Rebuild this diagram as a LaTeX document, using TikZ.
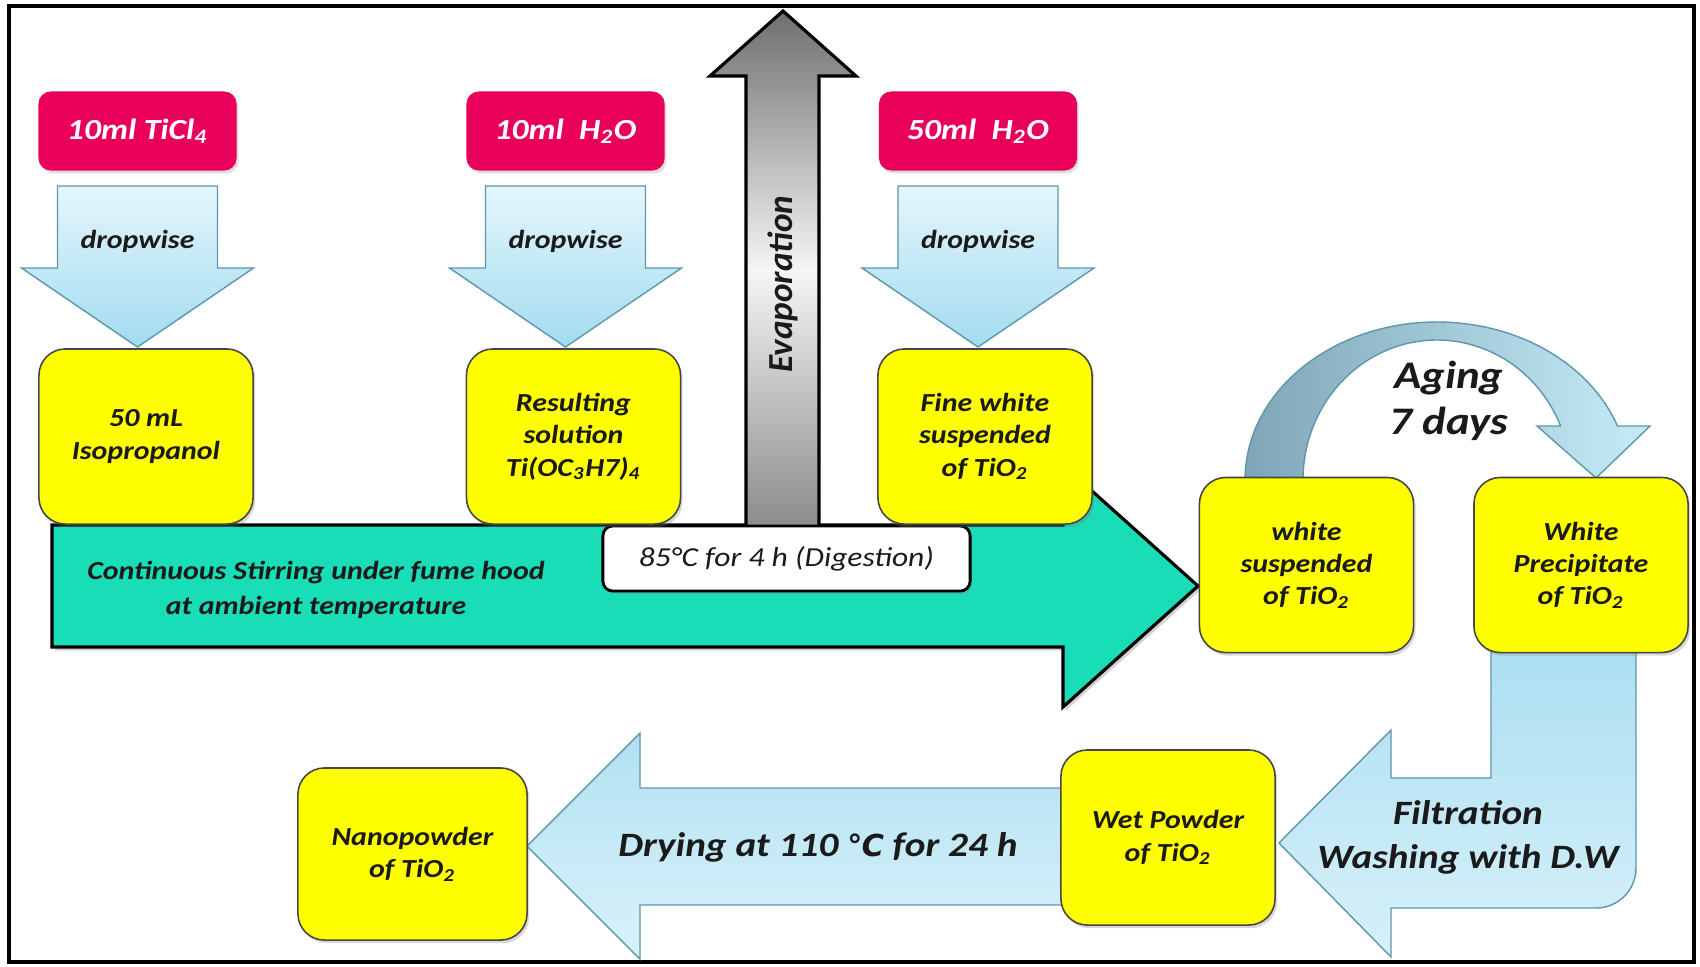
\documentclass[tikz,border=0pt]{standalone}
\usepackage{fontspec}
\setmainfont{Carlito}[FakeStretch=1.15]
\newfontfamily\plainfont{Carlito}
\newfontfamily\djv{DejaVu Sans}
\usetikzlibrary{shadows}
\definecolor{pinkc}{HTML}{E8005A}
\definecolor{yel}{HTML}{FFFF00}
\definecolor{tealc}{HTML}{18DDB7}
\definecolor{ltop}{HTML}{E4F6FC}
\definecolor{lbot}{HTML}{A3DBF0}
\definecolor{bedge}{HTML}{5E96AC}
\definecolor{txt}{HTML}{1A1A1A}
\definecolor{agL}{HTML}{7FA6B8}
\definecolor{agR}{HTML}{C6ECF8}
\definecolor{gtop}{HTML}{6E6E6E}
\definecolor{gbot}{HTML}{8A8A8A}
\tikzset{
  pinkbox/.style={fill=pinkc, rounded corners=3.5pt, minimum width=1.98cm, minimum height=0.79cm,
    text=white, font=\fontsize{8.3}{10}\selectfont\bfseries\itshape,
    drop shadow={opacity=0.25, shadow xshift=0.6pt, shadow yshift=-0.8pt}},
  yelbox/.style={fill=yel, draw=gray!55!black, line width=0.45pt, rounded corners=7.5pt,
    minimum width=2.14cm, minimum height=1.75cm, align=center, text=txt,
    font=\fontsize{7.4}{9.2}\selectfont\bfseries\itshape,
    drop shadow={opacity=0.3, shadow xshift=0.6pt, shadow yshift=-0.9pt}},
  droparrow/.style={draw=bedge, line width=0.4pt, top color=ltop, bottom color=lbot},
  lbl/.style={text=txt, font=\fontsize{7.4}{9.2}\selectfont\bfseries\itshape},
  biglbl/.style={text=txt, align=center, font=\fontsize{9.7}{12.5}\selectfont\bfseries\itshape}
}
\begin{document}
\begin{tikzpicture}[x=0.01cm, y=-0.01cm]
\useasboundingbox (0,0) rectangle (1700,966);
\fill[white] (0,0) rectangle (1700,966);
% frame
\draw[line width=0.9pt] (9,6) rectangle (1694,962);

% teal stirring arrow
\path[fill=tealc, draw=black, line width=0.9pt, line join=miter,
  drop shadow={opacity=0.35, shadow xshift=0.8pt, shadow yshift=-1pt}]
  (52,525) -- (1063,525) -- (1063,465) -- (1198,586) -- (1063,707) -- (1063,647) -- (52,647) -- cycle;

% evaporation arrow
\path[draw=black, line width=0.9pt, top color=gtop, bottom color=gbot, middle color=gray!8]
  (746,530) -- (746,76) -- (710,76) -- (783,11) -- (856,76) -- (819,76) -- (819,530) -- cycle;

% digestion box
\node[fill=white, draw=black, line width=0.8pt, rounded corners=2.8pt, minimum width=3.67cm,
  minimum height=0.65cm, text=txt, font=\fontsize{7.8}{9}\selectfont\itshape,
  drop shadow={opacity=0.3, shadow xshift=0.6pt, shadow yshift=-0.8pt}]
  (dig) at (786.5,558.5) {85°C for 4 h (Digestion)};

% aging curved arrow
\path[draw=bedge, line width=0.4pt, left color=agL, right color=agR]
  (1245,480) arc[start angle=180, end angle=340, x radius=192, y radius=158]
  -- (1650,426) -- (1596,478) -- (1537,426) -- (1560.6,426)
  arc[start angle=337.3, end angle=180, x radius=134, y radius=140] -- cycle;

% filtration L arrow
\path[draw=bedge, line width=0.4pt, top color=lbot!90!white, bottom color=ltop!80!lbot]
  (1491,650) -- (1636,650) -- (1636,868) arc[start angle=0, end angle=90, radius=40]
  -- (1391,908) -- (1391,957) -- (1279,843) -- (1391,730) -- (1391,778) -- (1491,778) -- cycle;

% drying arrow
\path[draw=bedge, line width=0.4pt, top color=lbot!85!white, bottom color=ltop!85!lbot]
  (1065,788) -- (640,788) -- (640,733) -- (527,846) -- (640,959) -- (640,905) -- (1065,905) -- cycle;

% dropwise arrows
\foreach \cx/\n in {137.5/1, 565.5/2, 978/3}{
  \path[droparrow] ({\cx-80},186) -- ({\cx+80},186) -- ({\cx+80},268) -- ({\cx+116},268)
    -- (\cx,347) -- ({\cx-116},268) -- ({\cx-80},268) -- cycle;
  \node[lbl] (d\n) at (\cx,241) {dropwise};
}

% pink boxes
\node[pinkbox] (p1) at (137.5,131) {10ml TiCl\textsubscript{4}};
\node[pinkbox] (p2) at (565.5,131) {10ml~ H\textsubscript{2}O};
\node[pinkbox] (p3) at (978,131) {50ml~ H\textsubscript{2}O};

% yellow boxes
\node[yelbox] (y1) at (146,436.5) {50 mL\\Isopropanol};
\node[yelbox] (y2) at (573.5,436.5) {Resulting\\solution\\Ti(OC\textsubscript{3}H7)\textsubscript{4}};
\node[yelbox] (y3) at (985,436.5) {Fine white\\suspended\\of TiO\textsubscript{2}};
\node[yelbox] (y4) at (1306.5,565) {white\\suspended\\of TiO\textsubscript{2}};
\node[yelbox] (y5) at (1581,565) {White\\Precipitate\\of TiO\textsubscript{2}};
\node[yelbox] (y6) at (1168,837.5) {Wet Powder\\of TiO\textsubscript{2}};
\node[yelbox, minimum width=2.29cm, minimum height=1.72cm] (y7) at (412.5,854) {Nanopowder\\of TiO\textsubscript{2}};

% labels
\node[text=txt, rotate=90, font=\plainfont\fontsize{10}{12}\selectfont\bfseries\itshape] (evap) at (783,284) {Evaporation};
\node[lbl, align=center, font=\fontsize{7.4}{10}\selectfont\bfseries\itshape] (stir) at (316,590)
  {Continuous Stirring under fume hood\\at ambient temperature};
\node[text=txt, align=center, font=\fontsize{11.1}{13}\selectfont\bfseries\itshape] (aging) at (1449,401) {Aging\\7 days};
\node[biglbl] (dry) at (818,847) {Drying at 110 {\djv\fontsize{8.6}{10}\selectfont ℃} for 24 h};
\node[biglbl] (filt) at (1468,837) {Filtration\\Washing with D.W};
\end{tikzpicture}
\end{document}
